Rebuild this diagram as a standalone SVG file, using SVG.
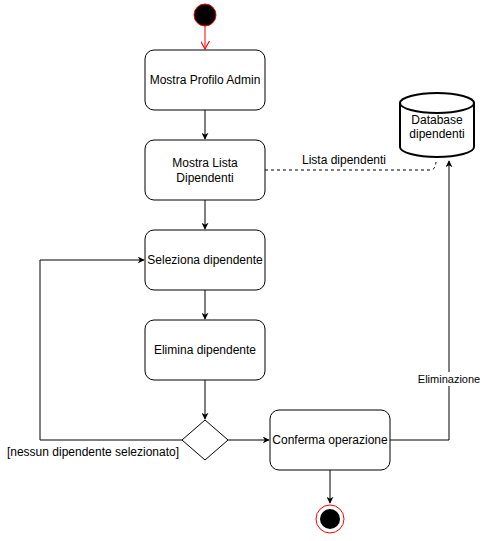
<svg xmlns="http://www.w3.org/2000/svg" width="484" height="541" viewBox="0 0 484 541">
  <defs>
    <marker id="arrow" viewBox="0 0 10 10" refX="9" refY="5" markerWidth="7" markerHeight="7" orient="auto" markerUnits="userSpaceOnUse">
      <path d="M0,0 L10,5 L0,10 L3,5 Z" fill="#000"/>
    </marker>
    <marker id="open-red" viewBox="0 0 10 10" refX="9" refY="5" markerWidth="9" markerHeight="9" orient="auto" markerUnits="userSpaceOnUse">
      <path d="M0,0 L9,5 L0,10" fill="none" stroke="#ff0000" stroke-width="1.2"/>
    </marker>
    <style>
      .box { fill: #fff; stroke: #000; stroke-width: 1; }
      .edge { fill: none; stroke: #000; stroke-width: 1; }
      .lbl { font-family: "Liberation Sans", Arial, sans-serif; font-size: 12px; fill: #000; text-anchor: middle; }
    </style>
  </defs>
  <rect width="484" height="541" fill="#fff"/>

  <g id="connectors">
    <line x1="205" y1="26" x2="205" y2="49" stroke="#ff0000" fill="none" marker-end="url(#open-red)"/>
    <line class="edge" x1="205" y1="110" x2="205" y2="139" marker-end="url(#arrow)"/>
    <line class="edge" x1="205" y1="200" x2="205" y2="229" marker-end="url(#arrow)"/>
    <line class="edge" x1="205" y1="290" x2="205" y2="319" marker-end="url(#arrow)"/>
    <line class="edge" x1="205" y1="380" x2="205" y2="419" marker-end="url(#arrow)"/>
    <line class="edge" x1="228" y1="440" x2="269" y2="440" marker-end="url(#arrow)"/>
    <polyline class="edge" points="182,440 40,440 40,260 144,260" marker-end="url(#arrow)"/>
    <line class="edge" x1="330" y1="470" x2="330" y2="503" marker-end="url(#arrow)"/>
    <polyline class="edge" points="390,440 449,440 449,161" marker-end="url(#arrow)"/>
    <path class="edge" d="M265,170 L431,170 Q435,170 436,162" stroke-dasharray="3,3"/>
    <rect x="296" y="152" width="94" height="14" fill="#fff"/>
    <text class="lbl" x="344" y="164">Lista dipendenti</text>
    <rect x="417" y="372" width="64" height="14" fill="#fff"/>
    <text class="lbl" x="449" y="383" style="font-size:11px">Eliminazione</text>
    <text class="lbl" x="93" y="456">[nessun dipendente selezionato]</text>
  </g>

  <g id="start">
    <circle cx="205" cy="15" r="11" fill="#000" stroke="#ff0000" stroke-width="1"/>
  </g>

  <g id="mostra-profilo">
    <rect class="box" x="145" y="50" width="120" height="60" rx="9"/>
    <text class="lbl" x="205" y="84">Mostra Profilo Admin</text>
  </g>

  <g id="mostra-lista">
    <rect class="box" x="145" y="140" width="120" height="60" rx="9"/>
    <text class="lbl" x="205" y="167">Mostra Lista</text>
    <text class="lbl" x="205" y="182">Dipendenti</text>
  </g>

  <g id="seleziona">
    <rect class="box" x="145" y="230" width="120" height="60" rx="9"/>
    <text class="lbl" x="205" y="264">Seleziona dipendente</text>
  </g>

  <g id="elimina">
    <rect class="box" x="145" y="320" width="120" height="60" rx="9"/>
    <text class="lbl" x="205" y="354">Elimina dipendente</text>
  </g>

  <g id="decisione">
    <polygon class="box" points="205,420 228,440 205,460 182,440"/>
  </g>

  <g id="conferma">
    <rect class="box" x="270" y="410" width="120" height="60" rx="9"/>
    <text class="lbl" x="330" y="444">Conferma operazione</text>
  </g>

  <g id="end">
    <circle cx="330" cy="519" r="14" fill="#fff" stroke="#ff0000" stroke-width="1"/>
    <circle cx="330" cy="519" r="10" fill="#000"/>
  </g>

  <g id="database">
    <path d="M400,103 A37,10 0 0 1 474,103 L474,147 A37,10 0 0 1 400,147 Z" fill="#fff" stroke="#000" stroke-width="2"/>
    <path d="M400,103 A37,10 0 0 0 474,103" fill="none" stroke="#000" stroke-width="2"/>
    <text class="lbl" x="437" y="124">Database</text>
    <text class="lbl" x="437" y="138">dipendenti</text>
  </g>
</svg>
